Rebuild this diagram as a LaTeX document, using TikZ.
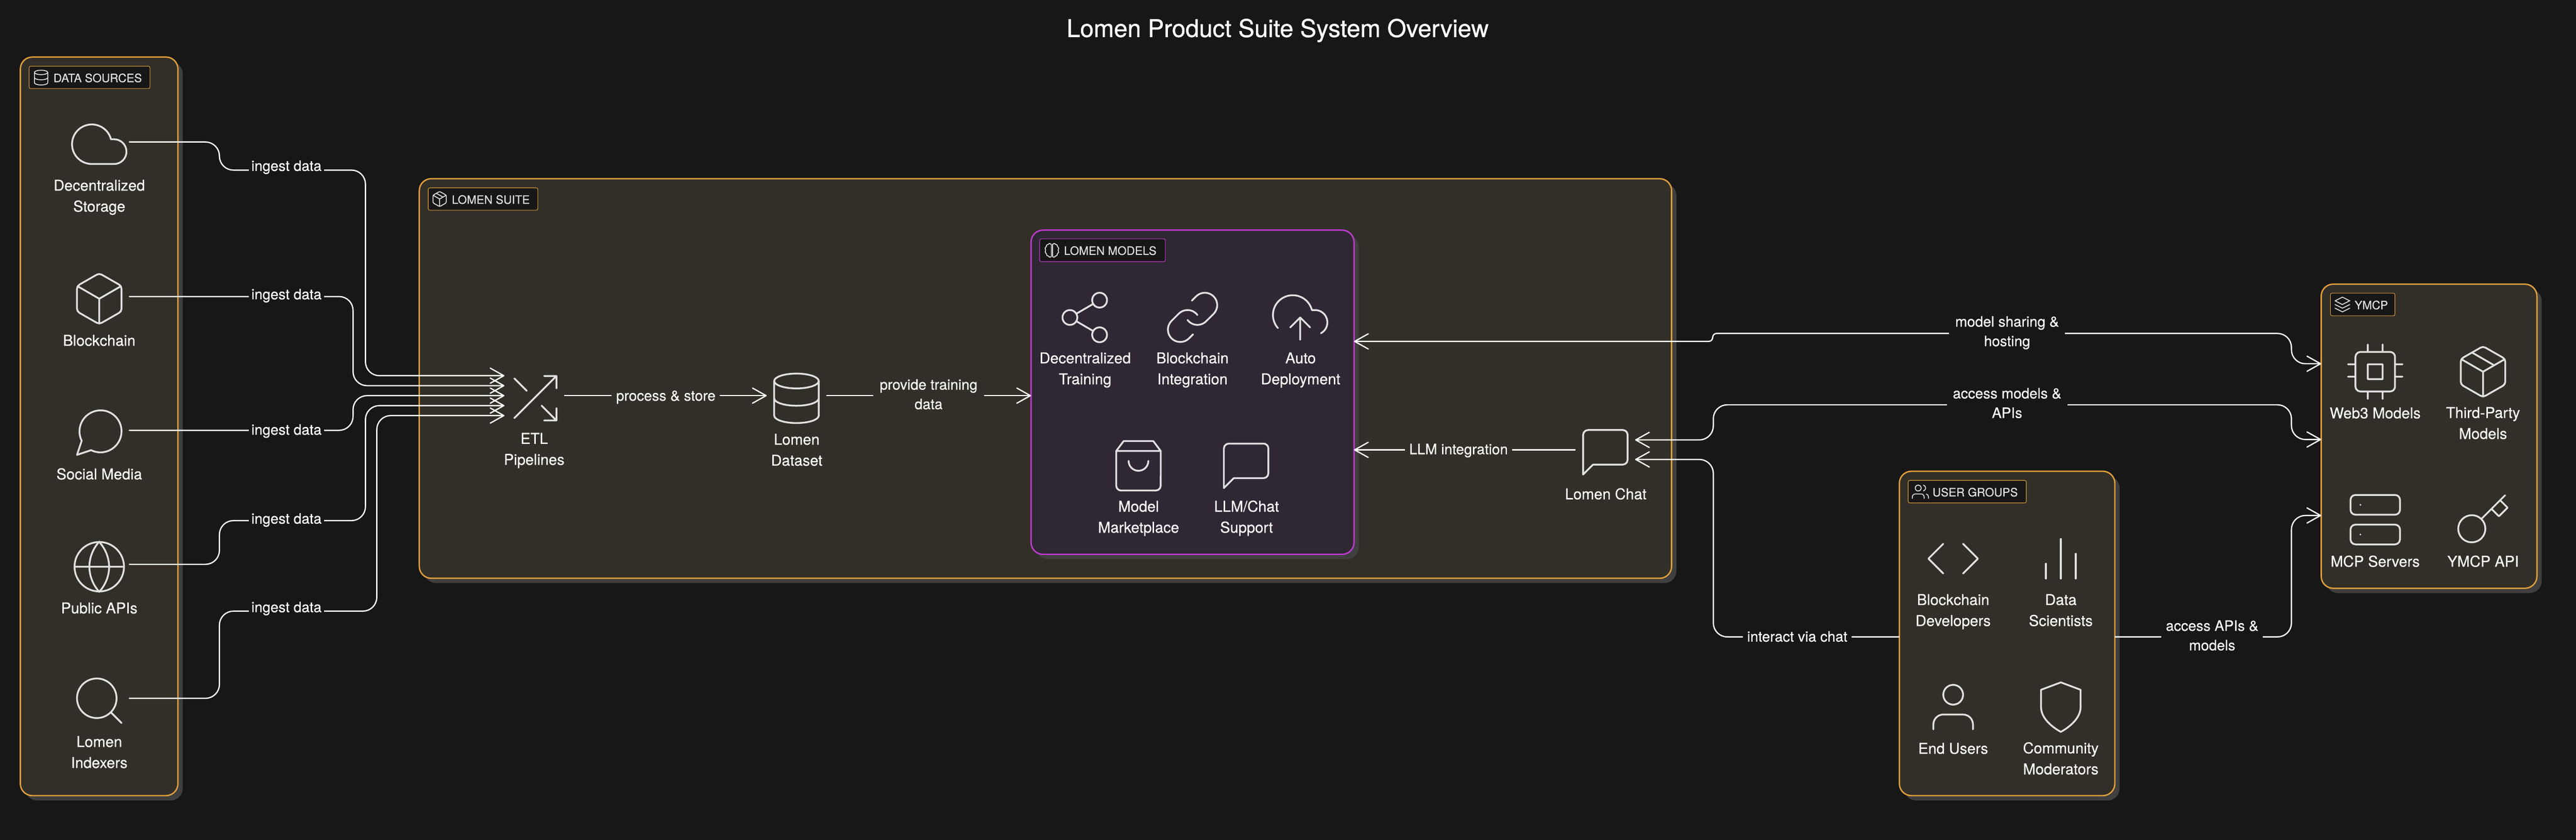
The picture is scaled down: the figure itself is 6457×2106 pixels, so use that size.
\documentclass[tikz,border=0pt]{standalone}
\usepackage{fontspec}
\setmainfont[FakeBold=0.4]{TeX Gyre Heros}
\newfontfamily\titlefont[FakeBold=0.8]{TeX Gyre Heros}
\usetikzlibrary{arrows.meta,svg.path}
\definecolor{bgc}{HTML}{171717}
\definecolor{grpfill}{HTML}{322F28}
\definecolor{modfill}{HTML}{2F2733}
\definecolor{orangec}{HTML}{DF9E3A}
\definecolor{purplec}{HTML}{C03AD0}
\definecolor{shadowc}{HTML}{3F3F3F}
\definecolor{iconc}{HTML}{E0E0E0}
\tikzset{
  x=0.1pt,y=-0.1pt,
  group/.style={draw=orangec,fill=grpfill,line width=.35pt,rounded corners=3pt,inner sep=0,outer sep=0},
  modgroup/.style={group,draw=purplec,fill=modfill},
  tagbox/.style={draw=orangec,fill=bgc,line width=.14pt,rounded corners=.4pt,inner sep=0,outer sep=0},
  modtag/.style={tagbox,draw=purplec},
  shadowbox/.style={fill=shadowc,rounded corners=3pt},
  iconbox/.style={minimum size=14.9pt,inner sep=0,outer sep=0},
  iconline/.style={draw=iconc,line width=.45pt,line cap=round,line join=round},
  tagline/.style={draw=iconc,line width=.22pt,line cap=round,line join=round},
  nodetxt/.style={text=white,inner sep=0,outer sep=0,align=center,font=\fontsize{3.75}{5.26}\selectfont},
  edgetxt/.style={text=white,inner ysep=0,inner xsep=1.1pt,outer sep=0,align=center,font=\fontsize{3.6}{4.9}\selectfont},
  tagtxt/.style={text=iconc,inner sep=0,outer sep=0,anchor=base west,font=\fontsize{2.9}{3.3}\selectfont},
  titletxt/.style={text=white,inner sep=0,outer sep=0,anchor=base,font=\titlefont\fontsize{6.1}{7}\selectfont},
  conn/.style={draw=white,line width=.32pt,rounded corners=3.5pt},
  >={Straight Barb[length=3.4pt,width=3.8pt,round]},
}
% groups and tags
\newcommand\grp[6]{%
  \pgfmathsetmacro\gcx{(#3+#5)/2}\pgfmathsetmacro\gcy{(#4+#6)/2}%
  \pgfmathsetmacro\gw{(#5-#3)*0.1}\pgfmathsetmacro\gh{(#6-#4)*0.1}%
  \fill[shadowbox] (#3+12,#4+12) rectangle (#5+12,#6+12);
  \node[#1,minimum width=\gw pt,minimum height=\gh pt] (#2) at (\gcx,\gcy) {};
}
\newcommand\tagb[6]{%
  \pgfmathsetmacro\gcx{(#3+#5)/2}\pgfmathsetmacro\gcy{(#4+#6)/2}%
  \pgfmathsetmacro\gw{(#5-#3)*0.1}\pgfmathsetmacro\gh{(#6-#4)*0.1}%
  \node[#1,minimum width=\gw pt,minimum height=\gh pt] (#2) at (\gcx,\gcy) {};
}
% text with first baseline at given y
\newcommand\lbl[5][nodetxt]{\node[#1,anchor=north] (#2) at (#3,#4-40) {\rule{0pt}{4pt}#5};}
% icons: 24-unit feather glyphs
\newcommand\ficon[3]{\begin{scope}[iconline,shift={(#1,#2)},xscale=.62,yscale=-.62,shift={(-12pt,-12pt)}]#3\end{scope}}
\newcommand\ticon[3]{\begin{scope}[tagline,shift={(#1,#2)},xscale=.185,yscale=-.185,shift={(-12pt,-12pt)}]#3\end{scope}}
\newcommand\cir[3]{\draw (#1pt,#2pt) circle[radius=#3pt];}
\newcommand\icCloud{\draw svg {M 18 10 h -1.26 A 8 8 0 1 0 9 20 h 9 a 5 5 0 0 0 0 -10 z};}
\newcommand\icCube{\draw svg {M 21 16 V 8 a 2 2 0 0 0 -1 -1.73 l -7 -4 a 2 2 0 0 0 -2 0 l -7 4 A 2 2 0 0 0 3 8 v 8 a 2 2 0 0 0 1 1.73 l 7 4 a 2 2 0 0 0 2 0 l 7 -4 A 2 2 0 0 0 21 16 z M 3.27 6.96 L 12 12.01 L 20.73 6.96 M 12 22.08 L 12 12};}
\newcommand\icPackage{\icCube\draw svg {M 16.5 9.4 L 7.5 4.21};}
\newcommand\icMsgC{\draw svg {M 21 11.5 a 8.38 8.38 0 0 1 -0.9 3.8 a 8.5 8.5 0 0 1 -7.6 4.7 a 8.38 8.38 0 0 1 -3.8 -0.9 L 3 21 l 1.9 -5.7 a 8.38 8.38 0 0 1 -0.9 -3.8 a 8.5 8.5 0 0 1 4.7 -7.6 a 8.38 8.38 0 0 1 3.8 -0.9 h 0.5 a 8.48 8.48 0 0 1 8 8 v 0.5 z};}
\newcommand\icGlobe{\cir{12}{12}{10}\draw svg {M 2 12 L 22 12 M 12 2 a 15.3 15.3 0 0 1 4 10 a 15.3 15.3 0 0 1 -4 10 a 15.3 15.3 0 0 1 -4 -10 a 15.3 15.3 0 0 1 4 -10 z};}
\newcommand\icSearch{\cir{11}{11}{8}\draw svg {M 21 21 L 16.65 16.65};}
\newcommand\icShuffle{\draw svg {M 16 3 L 21 3 L 21 8 M 4 20 L 21 3 M 21 16 L 21 21 L 16 21 M 15 15 L 21 21 M 4 4 L 9 9};}
\newcommand\icDb{\draw (12pt,5pt) ellipse[x radius=9pt,y radius=3pt];\draw svg {M 21 12 C 21 13.66 17 15 12 15 C 7 15 3 13.66 3 12 M 3 5 L 3 19 C 3 20.66 7 22 12 22 C 17 22 21 20.66 21 19 L 21 5};}
\newcommand\icShare{\cir{18}{5}{3}\cir{6}{12}{3}\cir{18}{19}{3}\draw svg {M 8.59 13.51 L 15.42 17.49 M 15.41 6.51 L 8.59 10.49};}
\newcommand\icLink{\draw svg {M 10 13 a 5 5 0 0 0 7.54 0.54 l 3 -3 a 5 5 0 0 0 -7.07 -7.07 l -1.72 1.71 M 14 11 a 5 5 0 0 0 -7.54 -0.54 l -3 3 a 5 5 0 0 0 7.07 7.07 l 1.71 -1.71};}
\newcommand\icUpload{\draw svg {M 16 16 L 12 12 L 8 16 M 12 12 L 12 21 M 20.39 18.39 A 5 5 0 0 0 18 9 h -1.26 A 8 8 0 1 0 3 16.3};}
\newcommand\icBag{\draw svg {M 6 2 L 3 6 v 14 a 2 2 0 0 0 2 2 h 14 a 2 2 0 0 0 2 -2 V 6 l -3 -4 z M 3 6 L 21 6 M 16 10 C 16 12.21 14.21 14 12 14 C 9.79 14 8 12.21 8 10};}
\newcommand\icMsgS{\draw svg {M 21 15 a 2 2 0 0 1 -2 2 H 7 l -4 4 V 5 a 2 2 0 0 1 2 -2 h 14 a 2 2 0 0 1 2 2 z};}
\newcommand\icCpu{\draw svg {M 6 4 h 12 a 2 2 0 0 1 2 2 v 12 a 2 2 0 0 1 -2 2 h -12 a 2 2 0 0 1 -2 -2 v -12 a 2 2 0 0 1 2 -2 z M 9 9 h 6 v 6 h -6 z M 9 1 L 9 4 M 15 1 L 15 4 M 9 20 L 9 23 M 15 20 L 15 23 M 20 9 L 23 9 M 20 14 L 23 14 M 1 9 L 4 9 M 1 14 L 4 14};}
\newcommand\icServer{\draw svg {M 4 2 h 16 a 2 2 0 0 1 2 2 v 4 a 2 2 0 0 1 -2 2 h -16 a 2 2 0 0 1 -2 -2 v -4 a 2 2 0 0 1 2 -2 z M 4 14 h 16 a 2 2 0 0 1 2 2 v 4 a 2 2 0 0 1 -2 2 h -16 a 2 2 0 0 1 -2 -2 v -4 a 2 2 0 0 1 2 -2 z M 6 6 L 6.01 6 M 6 18 L 6.01 18};}
\newcommand\icKey{\draw svg {M 21 2 l -2 2 M 11.39 11.61 a 5.5 5.5 0 1 1 -7.778 7.778 a 5.5 5.5 0 0 1 7.777 -7.777 z M 11.39 11.61 L 15.5 7.5 M 15.5 7.5 l 3 3 L 22 7 l -3 -3 M 15.5 7.5 L 19 4};}
\newcommand\icCode{\draw svg {M 16 18 L 22 12 L 16 6 M 8 6 L 2 12 L 8 18};}
\newcommand\icBars{\draw svg {M 18 20 L 18 10 M 12 20 L 12 4 M 6 20 L 6 14};}
\newcommand\icUser{\cir{12}{7}{4}\draw svg {M 20 21 v -2 a 4 4 0 0 0 -4 -4 H 8 a 4 4 0 0 0 -4 4 v 2};}
\newcommand\icShield{\draw svg {M 12 22 c 0 0 8 -4 8 -10 V 5 l -8 -3 l -8 3 v 7 c 0 6 8 10 8 10 z};}
\newcommand\icUsers{\cir{9}{7}{4}\draw svg {M 17 21 v -2 a 4 4 0 0 0 -4 -4 H 5 a 4 4 0 0 0 -4 4 v 2 M 23 21 v -2 a 4 4 0 0 0 -3 -3.87 M 16 3.13 a 4 4 0 0 1 0 7.75};}
\newcommand\icLayers{\draw svg {M 12 2 L 2 7 L 12 12 L 22 7 z M 2 17 L 12 22 L 22 17 M 2 12 L 12 17 L 22 12};}
\newcommand\icBrain{\draw svg {M 11.2 4 C 10.5 2.5 8 2.2 6.8 4 C 5 4 4 5.5 4.4 7 C 2.5 8 2.3 10.6 3.5 11.8 C 2.3 13.5 2.7 16 4.6 16.8 C 4.4 18.6 5.8 20 7.4 19.8 C 8.4 21.8 10.6 21.8 11.2 20 z M 12.8 4 C 13.5 2.5 16 2.2 17.2 4 C 19 4 20 5.5 19.6 7 C 21.5 8 21.7 10.6 20.5 11.8 C 21.7 13.5 21.3 16 19.4 16.8 C 19.6 18.6 18.2 20 16.6 19.8 C 15.6 21.8 13.4 21.8 12.8 20 z};}
\begin{document}
\begin{tikzpicture}
\useasboundingbox (0,0) rectangle (6457,2106);
\fill[bgc] (0,0) rectangle (6457,2106);
\node[titletxt] (title) at (3202.6,92.7) {Lomen Product Suite System Overview};
% groups
\grp{group}{src}{51}{143}{446}{1995}
\grp{group}{suite}{1051}{448}{4190}{1450}
\grp{modgroup}{models}{2584.4}{577}{3394}{1390}
\grp{group}{users}{4761}{1181.6}{5301}{1995}
\grp{group}{ymcp}{5818.3}{712.5}{6359}{1475}
% tags
\tagb{tagbox}{tsrc}{73}{166}{376}{222}
\tagb{tagbox}{tsuite}{1073.5}{471}{1348}{527}
\tagb{modtag}{tmodels}{2606}{599}{2921}{656}
\tagb{tagbox}{tusers}{4783}{1204.5}{5079}{1261}
\tagb{tagbox}{tymcp}{5841.5}{735}{6003}{791.7}
\node[tagtxt] (tsrcT) at (134,206) {DATA SOURCES};
\node[tagtxt] (tsuiteT) at (1132.6,511) {LOMEN SUITE};
\node[tagtxt] (tmodelsT) at (2667,639) {LOMEN MODELS};
\node[tagtxt] (tusersT) at (4844,1244.7) {USER GROUPS};
\node[tagtxt] (tymcpT) at (5902,775.4) {YMCP};
\ticon{103}{194.5}{\icDb}
\ticon{1102}{499}{\icPackage}
\ticon{2636.7}{627.7}{\icBrain}
\ticon{4813.7}{1233}{\icUsers}
\ticon{5871.4}{763.5}{\icLayers}
% icon anchors
\node[iconbox] (cloud) at (248.8,356) {};
\node[iconbox] (chain) at (248.8,743.5) {};
\node[iconbox] (social) at (248.8,1079) {};
\node[iconbox] (apis) at (248.8,1415) {};
\node[iconbox] (index) at (248.8,1751) {};
\node[iconbox] (etl) at (1339,992) {};
\node[iconbox] (dataset) at (1996.4,992) {};
\node[iconbox] (chat) at (4024,1128) {};
% connectors
\draw[conn,->] (cloud.east) -- (550,356) -- (550,426.5) -- (916,426.5) -- (916,942) -- ([yshift=5pt]etl.west);
\draw[conn,->] (chain.east) -- (885,743.5) -- (885,967) -- ([yshift=2.5pt]etl.west);
\draw[conn,->] (social.east) -- (885,1079) -- (885,992) -- (etl.west);
\draw[conn,->] (apis.east) -- (550,1415) -- (550,1305.4) -- (916,1305.4) -- (916,1017) -- ([yshift=-2.5pt]etl.west);
\draw[conn,->] (index.east) -- (550,1751) -- (550,1532.4) -- (944.5,1532.4) -- (944.5,1042) -- ([yshift=-5pt]etl.west);
\draw[conn,->] (etl.east) -- (dataset.west);
\draw[conn,->] (dataset.east) -- (models.west |- dataset.east);
\draw[conn,->] (chat.west) -- (models.east |- chat.west);
\draw[conn,<->,rounded corners=1pt] (models.east |- 0,856) -- (4293,856) -- (4293,836) -- (4600,836) [rounded corners=3.5pt] -- (5743.7,836) -- (5743.7,912) -- (ymcp.west |- 0,912);
\draw[conn,<->] ([yshift=2.5pt]chat.east) -- (4294.6,1103) -- (4294.6,1015) -- (5743.7,1015) -- (5743.7,1102) -- (ymcp.west |- 0,1102);
\draw[conn,<-] ([yshift=-2.4pt]chat.east) -- (4294.6,1152) -- (4294.6,1597) -- (users.west |- 0,1597);
\draw[conn,->] (users.east |- 0,1597) -- (5743.7,1597) -- (5743.7,1292.5) -- (ymcp.west |- 0,1292.5);
% edge labels
\lbl[edgetxt,fill=bgc,inner xsep=.65pt]{e1}{718}{428.5}{ingest data}
\lbl[edgetxt,fill=bgc,inner xsep=.65pt]{e2}{718}{750.5}{ingest data}
\lbl[edgetxt,fill=bgc,inner xsep=.65pt]{e3}{718}{1090}{ingest data}
\lbl[edgetxt,fill=bgc,inner xsep=.65pt]{e4}{718}{1313}{ingest data}
\lbl[edgetxt,fill=bgc,inner xsep=.65pt]{e5}{718}{1535}{ingest data}
\lbl[edgetxt,fill=grpfill]{e6}{1669}{1004.7}{process \& store}
\lbl[edgetxt,fill=grpfill,inner xsep=1.6pt]{e7}{2327.6}{977}{provide training\\data}
\lbl[edgetxt,fill=grpfill]{e8}{3656}{1139}{LLM integration}
\lbl[edgetxt,fill=bgc,inner xsep=1.5pt]{e9}{5031}{819}{model sharing \&\\hosting}
\lbl[edgetxt,fill=bgc,inner xsep=1.5pt]{e10}{5031}{999}{access models \&\\APIs}
\lbl[edgetxt,fill=bgc]{e11}{4505}{1608.8}{interact via chat}
\lbl[edgetxt,fill=bgc]{e12}{5545}{1581.7}{access APIs \&\\models}
% icons
\ficon{248.8}{361.6}{\icCloud}
\ficon{248.8}{749}{\icCube}
\ficon{248.8}{1084.7}{\icMsgC}
\ficon{248.8}{1421}{\icGlobe}
\ficon{248.8}{1757}{\icSearch}
\ficon{1339}{998.5}{\icShuffle}
\ficon{1996.4}{998.7}{\icDb}
\ficon{2719}{796}{\icShare}
\ficon{2989}{796}{\icLink}
\ficon{3259}{796}{\icUpload}
\ficon{2853.7}{1168}{\icBag}
\ficon{3123.5}{1168}{\icMsgS}
\ficon{4024}{1134}{\icMsgS}
\ficon{4895.8}{1400.7}{\icCode}
\ficon{5165.6}{1401}{\icBars}
\ficon{4895.8}{1773}{\icUser}
\ficon{5165.6}{1773}{\icShield}
\ficon{5953.7}{932}{\icCpu}
\ficon{6223.9}{932}{\icPackage}
\ficon{5953.7}{1303}{\icServer}
\ficon{6223.4}{1303.8}{\icKey}
% node labels
\lbl{l1}{248.8}{478}{Decentralized\\Storage}
\lbl{l2}{248.8}{867}{Blockchain}
\lbl{l3}{248.8}{1202}{Social Media}
\lbl{l4}{248.8}{1538}{Public APIs}
\lbl{l5}{248.8}{1873}{Lomen\\Indexers}
\lbl{l6}{1339}{1113}{ETL\\Pipelines}
\lbl{l7}{1997}{1115}{Lomen\\Dataset}
\lbl{l8}{2720}{911}{Decentralized\\Training}
\lbl{l9}{2989}{911}{Blockchain\\Integration}
\lbl{l10}{3260}{911}{Auto\\Deployment}
\lbl{l11}{2854}{1283}{Model\\Marketplace}
\lbl{l12}{3124.6}{1283}{LLM/Chat\\Support}
\lbl{l13}{4025}{1252}{Lomen Chat}
\lbl{l14}{4895.8}{1517}{Blockchain\\Developers}
\lbl{l15}{5165.6}{1517}{Data\\Scientists}
\lbl{l16}{4895.8}{1890}{End Users}
\lbl{l17}{5165.6}{1889}{Community\\Moderators}
\lbl{l18}{5953.7}{1049}{Web3 Models}
\lbl{l19}{6223.9}{1048}{Third-Party\\Models}
\lbl{l20}{5953.7}{1421}{MCP Servers}
\lbl{l21}{6224}{1421}{YMCP API}
\end{tikzpicture}
\end{document}
